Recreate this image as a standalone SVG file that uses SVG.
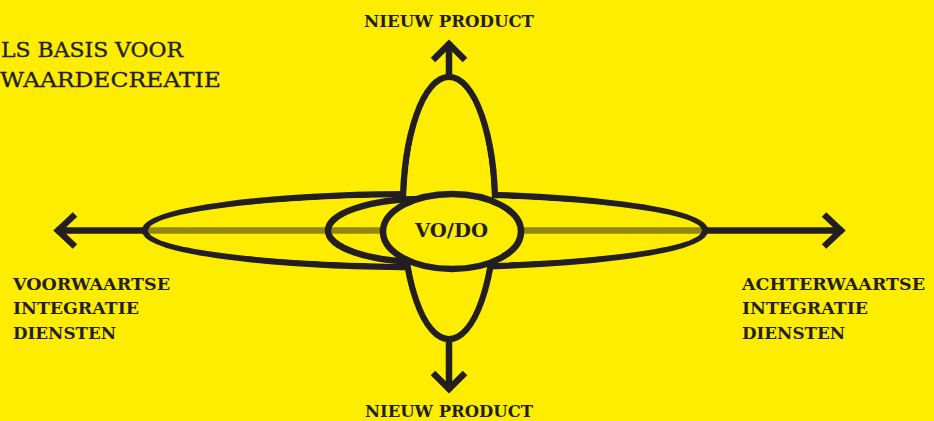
<svg xmlns="http://www.w3.org/2000/svg" width="934" height="421" viewBox="0 0 934 421">
<style>
.ln{fill:none;stroke:#231f20;stroke-width:6.5;stroke-linecap:butt;stroke-linejoin:miter}
.sh{fill:#ffed00;stroke:#231f20;stroke-width:6.5}
.fo{fill:#ffed00;stroke:none}
.lb{font-family:"DejaVu Serif","Liberation Serif",serif;font-weight:bold;font-size:16px;fill:#231f20}
.tt{font-family:"DejaVu Serif","Liberation Serif",serif;font-size:21px;fill:#231f20;stroke:#231f20;stroke-width:0.35}
</style>
<rect width="934" height="421" fill="#ffed00"/>
<g id="title">
<text class="tt" x="1" y="57" textLength="182" lengthAdjust="spacingAndGlyphs">LS BASIS VOOR</text>
<text class="tt" x="0" y="87" textLength="221" lengthAdjust="spacingAndGlyphs">WAARDECREATIE</text>
</g>
<g id="connectors">
<path class="ln" d="M56,230.5 H145 M75,214.5 L58,230.5 L75,246.5"/>
<path class="ln" d="M705,230.5 H843 M824,214.5 L841,230.5 L824,246.5"/>
<path class="ln" d="M449,77 V42 M433,60 L449,44 L465,60"/>
<path class="ln" d="M449,339 V391 M433,373 L449,389 L465,373"/>
</g>
<g id="petals">
<ellipse class="sh" cx="425" cy="230.5" rx="280" ry="36.5"/>
<ellipse class="sh" cx="449" cy="208" rx="46" ry="131"/>
<ellipse class="fo" cx="425" cy="230.5" rx="276.8" ry="33.3"/>
<ellipse class="fo" cx="449" cy="208" rx="42.8" ry="127.8"/>
</g>
<g id="inner">
<ellipse class="sh" cx="422" cy="230.5" rx="94" ry="31.5"/>
</g>
<path d="M145,230.5 H705" stroke="#231f20" stroke-width="6.5" stroke-opacity="0.5" fill="none"/>
<g id="vodo">
<ellipse class="sh" cx="452" cy="231.5" rx="69" ry="37.5"/>
<text x="451.5" y="236.5" text-anchor="middle" font-family="DejaVu Serif, Liberation Serif, serif" font-weight="bold" font-size="18" fill="#231f20" textLength="73" lengthAdjust="spacingAndGlyphs">VO/DO</text>
</g>
<g id="top-label"><text class="lb" x="364" y="27" textLength="170" lengthAdjust="spacingAndGlyphs">NIEUW PRODUCT</text></g>
<g id="bottom-label"><text class="lb" x="365" y="417" textLength="168" lengthAdjust="spacingAndGlyphs">NIEUW PRODUCT</text></g>
<g id="left-label">
<text class="lb" x="13" y="289.5" textLength="157" lengthAdjust="spacingAndGlyphs">VOORWAARTSE</text>
<text class="lb" x="13" y="314" textLength="126" lengthAdjust="spacingAndGlyphs">INTEGRATIE</text>
<text class="lb" x="13" y="338.5" textLength="103" lengthAdjust="spacingAndGlyphs">DIENSTEN</text>
</g>
<g id="right-label">
<text class="lb" x="742" y="289.5" textLength="183" lengthAdjust="spacingAndGlyphs">ACHTERWAARTSE</text>
<text class="lb" x="742" y="314" textLength="126" lengthAdjust="spacingAndGlyphs">INTEGRATIE</text>
<text class="lb" x="742" y="338.5" textLength="103" lengthAdjust="spacingAndGlyphs">DIENSTEN</text>
</g>
</svg>
